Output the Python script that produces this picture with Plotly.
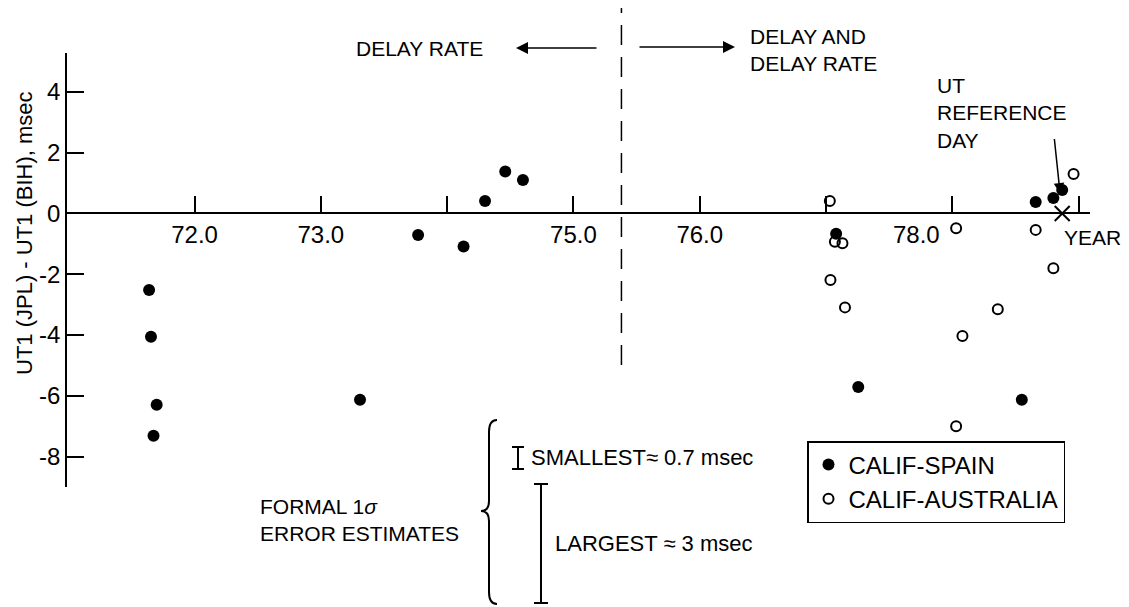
import plotly.graph_objects as go

# ---------------- data (decimal year, UT1(JPL) - UT1(BIH) in msec) ----------------
spain_year = [71.64, 71.655, 71.70, 71.675, 73.31, 73.77, 74.13, 74.30, 74.46, 74.60,
              77.08, 77.255, 78.55, 78.66, 78.80, 78.87]
spain_ut1 = [-2.52, -4.06, -6.29, -7.31, -6.13, -0.71, -1.09, 0.41, 1.38, 1.10,
             -0.67, -5.71, -6.13, 0.38, 0.51, 0.77]

aus_year = [77.03, 77.07, 77.13, 77.035, 77.15, 78.03, 78.08, 78.36, 78.03, 78.66, 78.80, 78.96]
aus_ut1 = [0.41, -0.93, -0.98, -2.19, -3.09, -0.49, -4.03, -3.15, -7.0, -0.54, -1.80, 1.30]

ref_day_year = [78.87]
ref_day_ut1 = [0.0]

method_change_year = 75.38

x_tick_vals = [72, 73, 74, 75, 76, 77, 78, 79]
x_tick_text = ["72.0", "73.0", "", "75.0", "76.0", "", "", ""]
y_tick_vals = [4, 2, 0, -2, -4, -6, -8]
y_tick_text = ["4", "2", "0", "-2", "-4", "-6", "-8"]

# ---------------- layout helpers ----------------
W, H = 1129, 607
ML, MR, MT, MB = 67, 39, 53, 120
PW, PH = W - ML - MR, H - MT - MB
X_RANGE = [70.99, 79.09]
Y_RANGE = [-9.0, 5.28]


def px(x):
    return (x - ML) / PW


def py(y):
    return (H - MB - y) / PH


REG = "Liberation Sans, Arial, sans-serif"
TXT = 21

fig = go.Figure()
fig.add_trace(go.Scatter(
    x=spain_year, y=spain_ut1, mode="markers", name="CALIF-SPAIN",
    marker=dict(symbol="circle", size=12, color="black")))
fig.add_trace(go.Scatter(
    x=aus_year, y=aus_ut1, mode="markers", name="CALIF-AUSTRALIA",
    marker=dict(symbol="circle-open", size=10, color="black", line=dict(width=2))))
fig.add_trace(go.Scatter(
    x=ref_day_year, y=ref_day_ut1, mode="markers", showlegend=False,
    marker=dict(symbol="x-thin-open", size=15, color="black", line=dict(width=2, color="black"))))

zero_pos = (0 - Y_RANGE[0]) / (Y_RANGE[1] - Y_RANGE[0])

fig.update_layout(
    width=W, height=H,
    margin=dict(l=ML, r=MR, t=MT, b=MB),
    paper_bgcolor="white", plot_bgcolor="white",
    font=dict(family=REG, size=24, color="black"),
    xaxis=dict(range=X_RANGE, showgrid=False, zeroline=False,
               showline=True, linecolor="black", linewidth=1.5,
               ticks="inside", ticklen=17, tickwidth=1.5, tickcolor="black",
               tickvals=x_tick_vals, ticktext=x_tick_text,
               tickfont=dict(family=REG, size=24),
               anchor="free", position=zero_pos, side="bottom"),
    yaxis=dict(range=Y_RANGE, showgrid=False, zeroline=False,
               showline=True, linecolor="black", linewidth=1.5,
               ticks="inside", ticklen=17, tickwidth=1.5, tickcolor="black",
               tickvals=y_tick_vals, ticktext=y_tick_text,
               tickfont=dict(family=REG, size=24)),
    legend=dict(x=px(807), y=py(441), xanchor="left", yanchor="top",
                bordercolor="black", borderwidth=1.5, bgcolor="white",
                font=dict(family=REG, size=24), itemwidth=30,
                tracegroupgap=0),
    showlegend=True,
)


def text_ann(text, x, y, xanchor="left", size=TXT, **kw):
    return dict(text=text, xref="paper", yref="paper", x=px(x), y=py(y),
                xanchor=xanchor, yanchor="middle", align="left", showarrow=False,
                font=dict(family=REG, size=size), **kw)


ann = []
ann.append(text_ann("UT1 (JPL) - UT1 (BIH), msec", 24, 233, xanchor="center", size=22, textangle=-90))
ann.append(text_ann("DELAY RATE", 419, 48, xanchor="center"))
ann.append(dict(text="", xref="paper", yref="paper", x=px(516), y=py(48), ax=82, ay=0,
                showarrow=True, arrowhead=2, arrowsize=1.6, arrowwidth=1.5, arrowcolor="black"))
ann.append(dict(text="", xref="paper", yref="paper", x=px(735), y=py(47), ax=-97, ay=0,
                showarrow=True, arrowhead=2, arrowsize=1.6, arrowwidth=1.5, arrowcolor="black"))
ann.append(text_ann("DELAY AND<br>DELAY RATE", 748, 50))
ann.append(text_ann("UT<br>REFERENCE<br>DAY", 935, 113))
ann.append(dict(text="", xref="x", yref="y", x=ref_day_year[0], y=ref_day_ut1[0],
                ax=-8, ay=-76, standoff=20, showarrow=True, arrowhead=2, arrowsize=1.4,
                arrowwidth=1.5, arrowcolor="black"))
ann.append(text_ann("YEAR", 1062, 237))
ann.append(dict(text="78.0", xref="x", yref="y", x=77.72, y=0, xanchor="center", yanchor="top",
                yshift=-6, showarrow=False, font=dict(family=REG, size=24)))
ann.append(text_ann("FORMAL 1<i>σ</i><br>ERROR ESTIMATES", 258, 520))
ann.append(text_ann("SMALLEST≈ 0.7 msec", 529, 457, size=22))
ann.append(text_ann("LARGEST ≈ 3 msec", 553, 543, size=22))
fig.update_layout(annotations=ann)

shapes = []
# method-change dashed line
shapes.append(dict(type="line", xref="x", yref="paper", x0=method_change_year, x1=method_change_year,
                   y0=py(365), y1=py(8), line=dict(color="black", width=1.5, dash="20px,12px")))
# brace
xr, xm, xl = 497, 489, 481
yt, ymid, yb = 420, 511, 604
brace = (f"M {px(xr)},{py(yt)} Q {px(xm)},{py(yt)} {px(xm)},{py(yt+12)} "
         f"L {px(xm)},{py(ymid-10)} Q {px(xm)},{py(ymid)} {px(xl)},{py(ymid)} "
         f"Q {px(xm)},{py(ymid)} {px(xm)},{py(ymid+10)} "
         f"L {px(xm)},{py(yb-12)} Q {px(xm)},{py(yb)} {px(xr)},{py(yb)}")
shapes.append(dict(type="path", xref="paper", yref="paper", path=brace,
                   line=dict(color="black", width=2)))
# error-bar glyphs
for xc, y0, y1, cap in [(518, 447, 469, 6), (541, 484, 603, 7)]:
    shapes.append(dict(type="line", xref="paper", yref="paper", x0=px(xc), x1=px(xc),
                       y0=py(y0), y1=py(y1), line=dict(color="black", width=2)))
    for yy in (y0, y1):
        shapes.append(dict(type="line", xref="paper", yref="paper", x0=px(xc - cap), x1=px(xc + cap),
                           y0=py(yy), y1=py(yy), line=dict(color="black", width=2)))
fig.update_layout(shapes=shapes)

fig.write_html("out.html", config={"displayModeBar": False},
               post_script="document.body.style.margin='0';")
